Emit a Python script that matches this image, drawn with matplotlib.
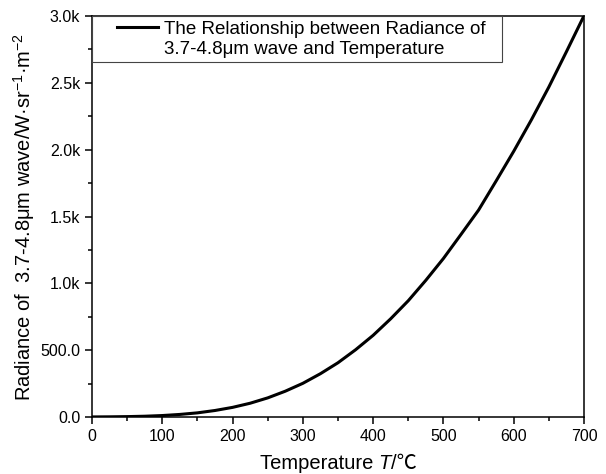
import matplotlib
matplotlib.use("Agg")
import matplotlib.pyplot as plt
from matplotlib.ticker import FuncFormatter, MultipleLocator
from matplotlib.legend_handler import HandlerLine2D
from matplotlib.offsetbox import TextArea, HPacker, AnchoredOffsetbox

# ----------------------------------------------------------------------
# DATA
# ----------------------------------------------------------------------
temperature = [0, 25, 50, 75, 100, 125, 150, 175, 200, 225, 250, 275, 300, 325, 350,
               375, 400, 425, 450, 475, 500, 525, 550, 575, 600, 625, 650, 675, 700]
radiance = [0.5, 1.3, 2.9, 5.8, 10.9, 19.2, 31, 48.7, 72, 103, 143, 193, 252, 324, 406,
            503, 611, 735, 870, 1023, 1186, 1366, 1548, 1766, 1988, 2222, 2469, 2733, 3002]

legend_label = "The Relationship between Radiance of\n3.7-4.8\u03bcm wave and Temperature"
x_label_parts = ["Temperature ", "T", "/\u2103"]
y_label = "Radiance of  3.7-4.8\u03bcm wave/W\u00b7sr$^{-1}$\u00b7m$^{-2}$"

# ----------------------------------------------------------------------
# STYLE
# ----------------------------------------------------------------------
plt.rcParams["font.family"] = ["Liberation Sans", "Noto Sans CJK SC", "DejaVu Sans"]
plt.rcParams["mathtext.fontset"] = "custom"
plt.rcParams["mathtext.rm"] = "Liberation Sans"
plt.rcParams["mathtext.it"] = "Liberation Sans:italic"
plt.rcParams["mathtext.bf"] = "Liberation Sans:bold"

LABEL_FS = 14.5
LEG_FS = 13.5


def k_fmt(v, pos):
    if v < 1000:
        return f"{v:.1f}"
    return f"{v / 1000:.1f}k"


class FirstLineHandler(HandlerLine2D):
    # put the legend line next to the first text line, like Origin does
    def create_artists(self, legend, orig_handle, xdescent, ydescent, width, height, fontsize, trans):
        artists = super().create_artists(legend, orig_handle, xdescent, ydescent,
                                         width, height, fontsize, trans)
        for a in artists:
            a.set_ydata([y + 0.62 * fontsize for y in a.get_ydata()])
        return artists


fig = plt.figure(figsize=(6.06, 4.74), dpi=100)
ax = fig.add_axes([92 / 606, 1 - 417 / 474, 492 / 606, 401 / 474])

line, = ax.plot(temperature, radiance, color="black", lw=2.2, label=legend_label)

ax.set_xlim(0, 700)
ax.set_ylim(0, 3000)
ax.xaxis.set_major_locator(MultipleLocator(100))
ax.xaxis.set_minor_locator(MultipleLocator(50))
ax.yaxis.set_major_locator(MultipleLocator(500))
ax.yaxis.set_minor_locator(MultipleLocator(250))
ax.yaxis.set_major_formatter(FuncFormatter(k_fmt))

for s in ax.spines.values():
    s.set_linewidth(1.1)
ax.tick_params(which="both", direction="out", top=False, right=False,
               width=1.1, labelsize=11.5, colors="black")
ax.tick_params(which="major", length=5)
ax.tick_params(which="minor", length=3)

ax.set_ylabel(y_label, fontsize=LABEL_FS, labelpad=2)

# x label with italic T and the degree-Celsius sign from a CJK font
parts = [
    TextArea(x_label_parts[0], textprops=dict(fontsize=LABEL_FS)),
    TextArea(x_label_parts[1], textprops=dict(fontsize=LABEL_FS, style="italic")),
    TextArea(x_label_parts[2], textprops=dict(fontsize=LABEL_FS)),
]
xlab = AnchoredOffsetbox(loc="upper center", child=HPacker(children=parts, align="baseline", pad=0, sep=0),
                         pad=0, borderpad=0, frameon=False,
                         bbox_to_anchor=(0.5, -0.093), bbox_transform=ax.transAxes)
ax.add_artist(xlab)

leg = ax.legend(handles=[line], loc="upper left", bbox_to_anchor=(0.0, 1.0, 0.834, 0.0),
                mode="expand", borderaxespad=0, fontsize=LEG_FS, fancybox=False,
                frameon=True, framealpha=1, edgecolor="#444444",
                handlelength=3.27, handletextpad=0.32, borderpad=0.25,
                handler_map={line: FirstLineHandler(xpad=1.06)})
leg.get_frame().set_linewidth(0.8)
for t in leg.get_texts():
    t.set_linespacing(1.22)

fig.savefig("out.png", dpi=100)
